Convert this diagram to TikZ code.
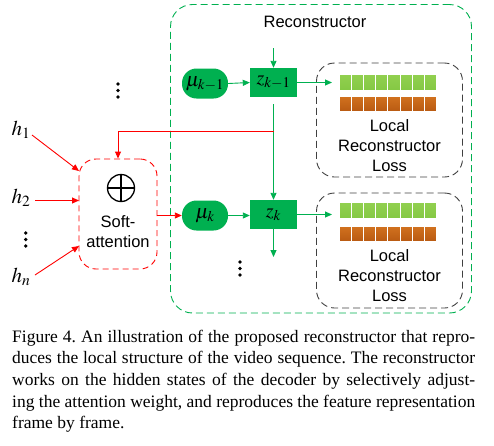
\documentclass[tikz,border=0pt]{standalone}
\usepackage{mathptmx}
\usepackage{fontspec}
\setmainfont{Liberation Serif}
\setsansfont{Liberation Sans}
\usetikzlibrary{arrows.meta,calc}
\definecolor{offgreen}{HTML}{00B050}
\definecolor{barA}{HTML}{92D050}
\definecolor{barB}{HTML}{84C843}
\definecolor{orA}{HTML}{D2721F}
\definecolor{orB}{HTML}{B85A12}
\definecolor{lossgray}{HTML}{404040}
\tikzset{
  garrow/.style={draw=offgreen, line width=0.9pt, -{Triangle[length=7pt,width=6pt]}},
  gline/.style={draw=offgreen, line width=0.9pt},
  rarrow/.style={draw=red, line width=0.9pt, -{Triangle[length=7pt,width=6pt]}},
  gbox/.style={fill=offgreen, draw=none, minimum width=47pt, minimum height=29pt, inner sep=0pt, font=\fontsize{20}{24}\selectfont},
  gpill/.style={fill=offgreen, draw=none, rounded corners=14.5pt, minimum width=46pt, minimum height=30pt, inner sep=0pt, font=\fontsize{20}{24}\selectfont},
  lossbox/.style={draw=lossgray, line width=0.9pt, dash pattern=on 7pt off 4pt, rounded corners=18pt, minimum width=146pt, inner sep=0pt},
  softbox/.style={draw=red, line width=0.9pt, dash pattern=on 6pt off 4pt, rounded corners=17pt, minimum width=78pt, minimum height=110pt, inner sep=0pt},
  recbox/.style={draw=offgreen, line width=0.9pt, dash pattern=on 7pt off 4pt, rounded corners=22pt, inner sep=0pt},
  sans/.style={font=\sffamily\fontsize{16.5}{20}\selectfont, align=center},
  hlab/.style={font=\fontsize{21}{24}\selectfont, inner sep=0pt},
  dotm/.style={fill=black},
}
\begin{document}
\begin{tikzpicture}[x=1pt,y=-1pt]
\useasboundingbox (0,0) rectangle (494,445);
% big reconstructor box
\node[recbox, minimum width=301pt, minimum height=308.5pt] (R) at (321,158.75) {};
\node[sans] (Rt) at (315,21.5) {Reconstructor};
% loss boxes
\node[lossbox, minimum height=114pt] (L1) at (389.5,120) {};
\node[lossbox, minimum height=115pt] (L2) at (389.5,250.5) {};
\foreach \yy in {74, 202}{
  \foreach \i in {0,...,7}{
    \path[top color=barA, bottom color=barB, draw=white, line width=0.8pt]
      (339+\i*12.2,\yy) rectangle ++(12.2,16.5);
  }
}
\foreach \yy in {96, 226}{
  \foreach \i in {0,...,7}{
    \path[top color=orA, bottom color=orB, draw=white, line width=0.8pt]
      (339+\i*12.2,\yy) rectangle ++(12.2,15.5);
  }
}
\node[sans] (L1t) at (389.5,145.5) {Local\\Reconstructor\\Loss};
\node[sans] (L2t) at (389.5,275.5) {Local\\Reconstructor\\Loss};
% green nodes
\node[gbox] (zk1) at (273.5,82.5) {$z_{k-1}$};
\node[gpill] (mk1) at (205,83.5) {$\mu_{k-1}$};
\node[gbox] (zk) at (273.5,214.5) {$z_{k}$};
\node[gpill] (mk) at (205,215.5) {$\mu_{k}$};
% soft attention
\node[softbox] (sa) at (118,214) {};
\node[circle, draw, line width=1.3pt, minimum size=27pt, inner sep=0pt] (op) at (121,188) {};
\draw[line width=1.3pt] (op.north) -- (op.south) (op.west) -- (op.east);
\node[sans] (sat) at (118,232) {Soft-\\attention};
% h labels
\node[hlab] (h1) at (21,130) {$h_1$};
\node[hlab] (h2) at (21,198) {$h_2$};
\node[hlab] (hn) at (21,277) {$h_n$};
\coordinate (t1) at (79,171);
\coordinate (t2) at (79,200.5);
\coordinate (tn) at (79,246);
\coordinate (s1) at (32,135);
\coordinate (s2) at (35,200.5);
\coordinate (sn) at (35,275);
\draw[rarrow] (s1) -- (t1);
\draw[rarrow] (s2) -- (t2);
\draw[rarrow] (sn) -- (tn);
% dots
\foreach \x/\y in {118/84, 25.7/233, 240/262}{
  \fill[dotm] (\x,\y) circle (1.9pt) (\x,\y+6.5) circle (1.9pt) (\x,\y+13) circle (1.9pt);
}
% green connectors
\coordinate (ztop) at (273.5,48);
\coordinate (zmid) at (273.5,104);
\coordinate (zbot) at (273.5,257);
\coordinate (e1) at (332,82.5);
\coordinate (e2) at (332,214.5);
\coordinate (rj) at (273.5,131);
\draw[garrow] (ztop) -- (zk1.north);
\draw[garrow] (mk1.east) -- (zk1.west);
\draw[garrow] (zk1.east) -- (e1);
\draw[garrow] (zmid) -- (zk.north);
\draw[garrow] (mk.east) -- (zk.west |- mk.east);
\draw[garrow] (zk.east) -- (e2);
\draw[garrow] (zk.south) -- (zbot);
% red connectors
\draw[rarrow] (rj) -| (sa.north);
\draw[rarrow] (sa.east |- mk.west) -- (mk.west);
% caption
\node[anchor=north west, text width=463pt, inner sep=0pt, align=justify,
  font=\fontsize{17.5}{21.7}\selectfont\frenchspacing] (cap) at (12,329.5) {Figure 4. An illustration of the proposed reconstructor that repro-\linebreak duces the local structure of the video sequence. The reconstructor\linebreak works on the hidden states of the decoder by selectively adjust-\linebreak ing the attention weight, and reproduces the feature representation\linebreak frame by frame.};
\end{tikzpicture}
\end{document}
